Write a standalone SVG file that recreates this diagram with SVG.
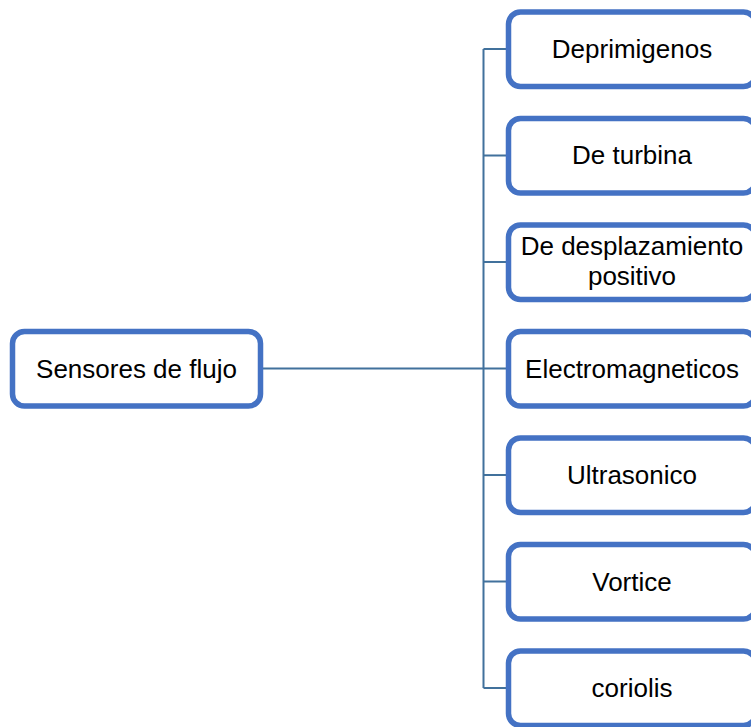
<svg xmlns="http://www.w3.org/2000/svg" width="751" height="727" viewBox="0 0 751 727">
<style>
.box{fill:#fff;stroke:#4472C4;stroke-width:5.5}
.t{font-family:"Liberation Sans",Arial,sans-serif;font-size:26px;fill:#000;text-anchor:middle}
.c{fill:none;stroke:#41719C;stroke-width:2}
</style>
<rect width="751" height="727" fill="#fff"/>
<g id="connectors">
<path class="c" d="M260.5 368.5H483.5M483.5 49V688M483.5 49H508.5M483.5 155.5H508.5M483.5 262H508.5M483.5 368.5H508.5M483.5 475H508.5M483.5 581.5H508.5M483.5 688H508.5"/>
</g>
<g id="root"><rect class="box" x="12.5" y="331.5" width="248" height="74.5" rx="12"/><text class="t" x="136.5" y="377.5">Sensores de flujo</text></g>
<g id="n1"><rect class="box" x="508.5" y="12" width="247" height="74.5" rx="12"/><text class="t" x="632" y="57.5">Deprimigenos</text></g>
<g id="n2"><rect class="box" x="508.5" y="118.5" width="247" height="74.5" rx="12"/><text class="t" x="632" y="164">De turbina</text></g>
<g id="n3"><rect class="box" x="508.5" y="225" width="247" height="74.5" rx="12"/><text class="t" x="632" y="255">De desplazamiento</text><text class="t" x="632" y="285">positivo</text></g>
<g id="n4"><rect class="box" x="508.5" y="331.5" width="247" height="74.5" rx="12"/><text class="t" x="632" y="377.5">Electromagneticos</text></g>
<g id="n5"><rect class="box" x="508.5" y="438" width="247" height="74.5" rx="12"/><text class="t" x="632" y="484">Ultrasonico</text></g>
<g id="n6"><rect class="box" x="508.5" y="544.5" width="247" height="74.5" rx="12"/><text class="t" x="632" y="590.5">Vortice</text></g>
<g id="n7"><rect class="box" x="508.5" y="651" width="247" height="74.5" rx="12"/><text class="t" x="632" y="697">coriolis</text></g>
</svg>
